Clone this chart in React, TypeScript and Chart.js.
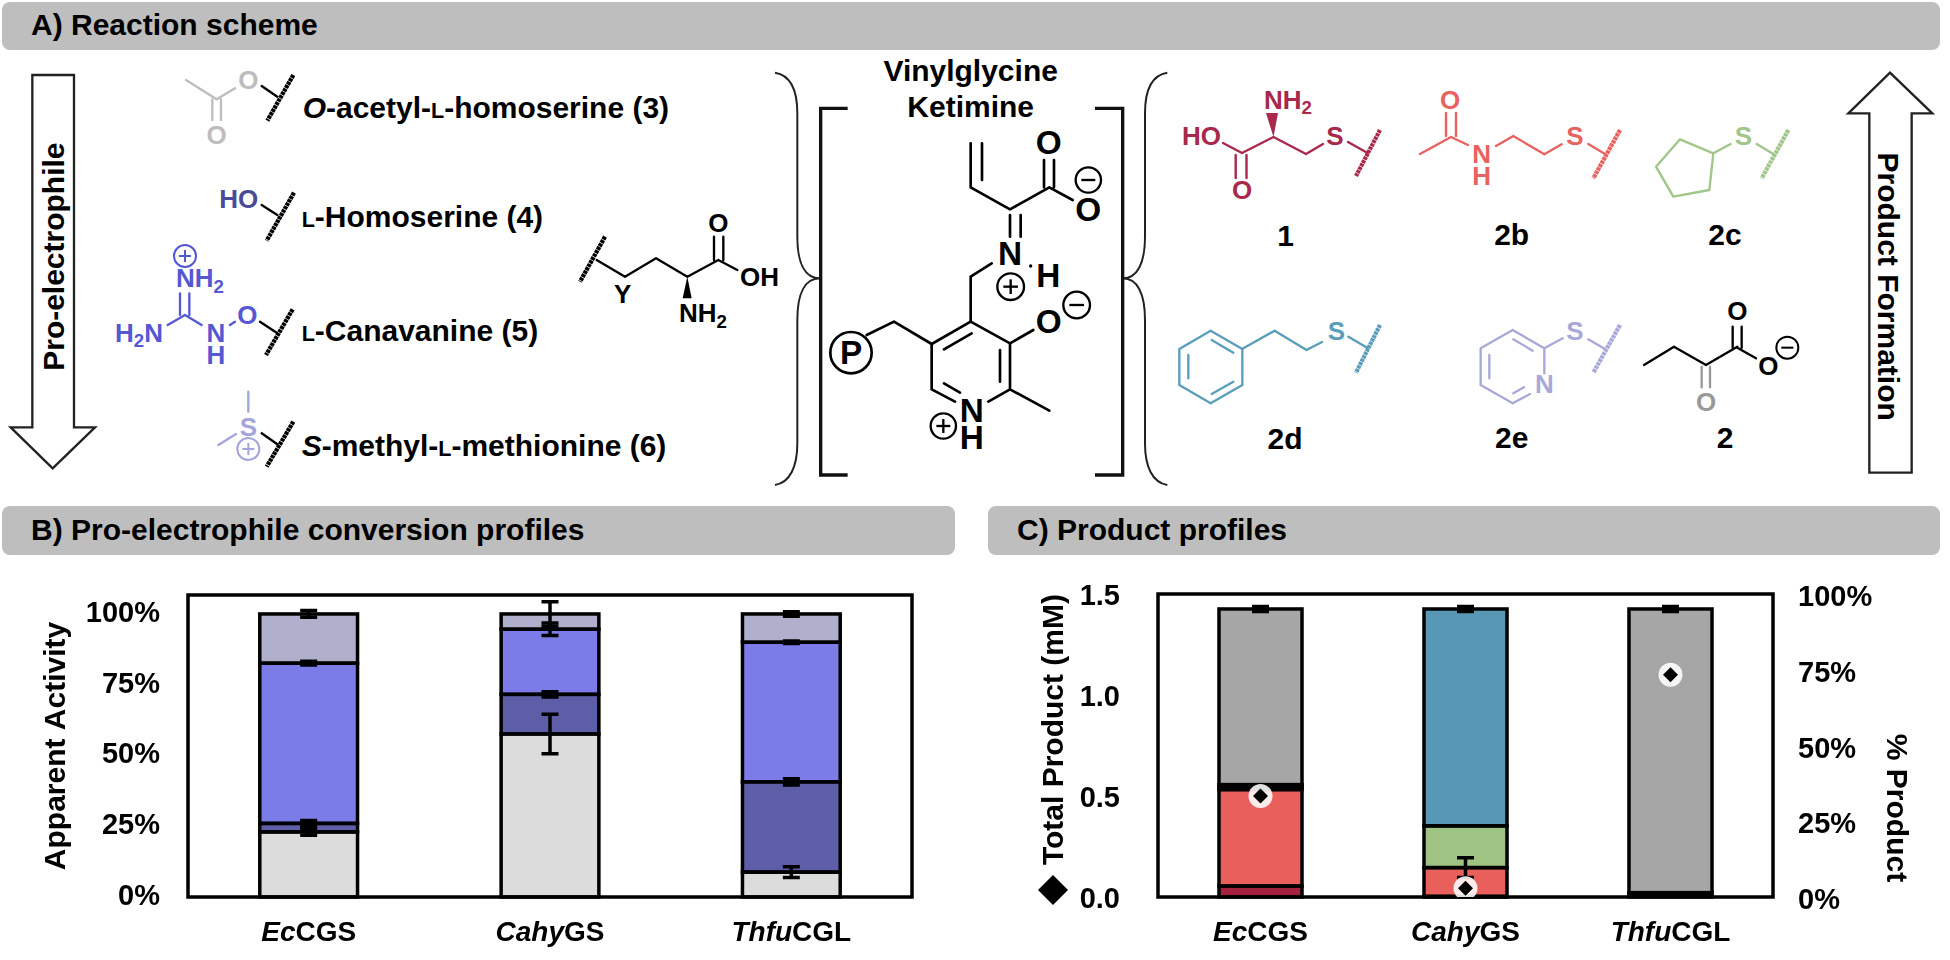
import React, { useEffect, useRef } from "react";
import { Chart, registerables } from "chart.js";

Chart.register(...registerables);

const FONT = "'Liberation Sans', Arial, sans-serif";

const italicParts = ["Ec", "Cahy", "Thfu"];
const plainParts = ["CGS", "GS", "CGL"];
const categories = ["EcCGS", "CahyGS", "ThfuCGL"];

// Panel B: apparent activity (%)
const acetylHomoserine = [23, 57.6, 8.8];
const homoserine = [3, 14, 31.9];
const canavanine = [56.6, 23, 49.3];
const methylMethionine = [17.4, 5.4, 10];
const acetylHomoserineErr = [1.2, 7, 1.9];
const homoserineErr = [1, 0.95, 1.1];
const canavanineErr = [0.65, 2.2, 0.45];
const methylMethionineErr = [1.2, 4.3, 0.8];
const activityTicks = [0, 25, 50, 75, 100];

// Panel C: product share (%) and total product (mM)
const product1 = [3.8, 0.2, 0.7];
const product2b = [33.5, 10, 0.8];
const product2c = [0.85, 14.5, 0];
const product2d = [0.85, 75.3, 0];
const product2e = [0, 0, 0];
const product2 = [61, 0, 98.5];
const product2bErr = [0, 3.4, 0];
const product2dErr = [0, 0.85, 0];
const product2Err = [0.85, 0, 0.85];
const totalProduct = [0.5, 0.043, 1.1];

const barBase = { borderWidth: 0, barPercentage: 0.405, categoryPercentage: 1, order: 2 };

const barMarks = {
  id: "barMarks",
  afterDatasetDraw(chart: any, args: any) {
    if (args.index !== 0) return;
    const { ctx, chartArea } = chart;
    ctx.save();
    ctx.strokeStyle = "#000";
    ctx.lineWidth = 3.5;
    chart.data.datasets.forEach((ds: any, i: number) => {
      if (ds.type === "line") return;
      chart.getDatasetMeta(i).data.forEach((el: any, j: number) => {
        if (!ds.data[j]) return;
        ctx.strokeRect(el.x - el.width / 2, el.y, el.width, el.base - el.y);
      });
    });
    chart.data.datasets.forEach((ds: any, i: number) => {
      if (!ds.errors) return;
      const meta = chart.getDatasetMeta(i);
      const sc = chart.scales[meta.yAxisID];
      const unit = sc.getPixelForValue(0) - sc.getPixelForValue(1);
      meta.data.forEach((el: any, j: number) => {
        const e = ds.errors[j];
        if (!e) return;
        const d = e * unit;
        ctx.beginPath();
        ctx.moveTo(el.x, el.y - d);
        ctx.lineTo(el.x, el.y + d);
        ctx.moveTo(el.x - 8.5, el.y - d);
        ctx.lineTo(el.x + 8.5, el.y - d);
        ctx.moveTo(el.x - 8.5, el.y + d);
        ctx.lineTo(el.x + 8.5, el.y + d);
        ctx.stroke();
      });
    });
    const { left, top, right, bottom } = chartArea;
    ctx.strokeRect(left, top, right - left, bottom - top);
    ctx.restore();
  },
};

const xLabels = {
  id: "xLabels",
  afterDraw(chart: any) {
    const { ctx, scales } = chart;
    ctx.save();
    ctx.fillStyle = "#000";
    ctx.textBaseline = "alphabetic";
    ctx.textAlign = "left";
    italicParts.forEach((it, i) => {
      const itFont = `italic bold 28px ${FONT}`;
      const plFont = `bold 28px ${FONT}`;
      ctx.font = itFont;
      const w1 = ctx.measureText(it).width;
      ctx.font = plFont;
      const w2 = ctx.measureText(plainParts[i]).width;
      const x0 = scales.x.getPixelForTick(i) - (w1 + w2) / 2;
      const y = scales.x.top + 44;
      ctx.font = itFont;
      ctx.fillText(it, x0, y);
      ctx.font = plFont;
      ctx.fillText(plainParts[i], x0 + w1, y);
    });
    ctx.restore();
  },
};

const productKey = {
  id: "productKey",
  afterDraw(chart: any) {
    const { ctx } = chart;
    ctx.save();
    ctx.fillStyle = "#000";
    ctx.beginPath();
    ctx.moveTo(93, 295);
    ctx.lineTo(108, 310);
    ctx.lineTo(93, 325);
    ctx.lineTo(78, 310);
    ctx.closePath();
    ctx.fill();
    ctx.translate(935, 228);
    ctx.rotate(Math.PI / 2);
    ctx.font = `bold 30px ${FONT}`;
    ctx.textAlign = "center";
    ctx.textBaseline = "middle";
    ctx.fillText("% Product", 0, 0);
    ctx.restore();
  },
};

const xAxis = {
  stacked: true,
  grid: { display: false },
  border: { display: false },
  ticks: { display: false },
  afterFit: (s: any) => { s.height = 63; },
};

const fitY = (width: number) => (s: any) => {
  s.width = width;
  s.paddingTop = 0;
  s.paddingBottom = 0;
};

const tickFont = { family: FONT, size: 29, weight: "bold" as const };

function ChartB() {
  const ref = useRef<HTMLCanvasElement>(null);
  useEffect(() => {
    const chart = new Chart(ref.current!, {
      type: "bar",
      data: {
        labels: categories,
        datasets: [
          { ...barBase, label: "3", data: acetylHomoserine, errors: acetylHomoserineErr, backgroundColor: "#DCDCDC" },
          { ...barBase, label: "4", data: homoserine, errors: homoserineErr, backgroundColor: "#5E5DA8" },
          { ...barBase, label: "5", data: canavanine, errors: canavanineErr, backgroundColor: "#7B7CE8" },
          { ...barBase, label: "6", data: methylMethionine, errors: methylMethionineErr, backgroundColor: "#B0B0CC" },
        ] as any,
      },
      options: {
        responsive: false,
        animation: false,
        devicePixelRatio: 1,
        layout: { padding: { top: 15, right: 48, left: 0, bottom: 0 } },
        plugins: { legend: { display: false }, tooltip: { enabled: false } },
        scales: {
          x: xAxis,
          y: {
            stacked: true,
            min: 0,
            max: 106.7,
            afterFit: fitY(188),
            afterBuildTicks: (s: any) => { s.ticks = activityTicks.map((value) => ({ value })); },
            grid: { display: false },
            border: { display: false },
            ticks: { color: "#000", font: tickFont, padding: 20, callback: (v: any) => `${v}%` },
            title: {
              display: true,
              text: "Apparent Activity",
              color: "#000",
              font: { family: FONT, size: 30, weight: "bold" },
              padding: { top: 39, bottom: 0 },
            },
          },
        },
      } as any,
      plugins: [barMarks, xLabels],
    });
    return () => chart.destroy();
  }, []);
  return <canvas ref={ref} width={960} height={380} style={{ position: "absolute", left: 0, top: 580 }} />;
}

function ChartC() {
  const ref = useRef<HTMLCanvasElement>(null);
  useEffect(() => {
    const chart = new Chart(ref.current!, {
      type: "bar",
      data: {
        labels: categories,
        datasets: [
          { ...barBase, yAxisID: "share", label: "1", data: product1, backgroundColor: "#A3213F" },
          { ...barBase, yAxisID: "share", label: "2b", data: product2b, errors: product2bErr, backgroundColor: "#E85F5C" },
          { ...barBase, yAxisID: "share", label: "2c", data: product2c, backgroundColor: "#9FC382" },
          { ...barBase, yAxisID: "share", label: "2d", data: product2d, errors: product2dErr, backgroundColor: "#5898B4" },
          { ...barBase, yAxisID: "share", label: "2e", data: product2e, backgroundColor: "#AFAFDA" },
          { ...barBase, yAxisID: "share", label: "2", data: product2, errors: product2Err, backgroundColor: "#A6A6A6" },
          {
            type: "line", yAxisID: "y", label: "halo", data: totalProduct, showLine: false, order: 1,
            pointStyle: "circle", pointRadius: 12, pointBorderWidth: 0, pointBackgroundColor: "rgba(255,255,255,0.88)",
          },
          {
            type: "line", yAxisID: "y", label: "Total Product", data: totalProduct, showLine: false, order: 0,
            pointStyle: "rectRot", pointRadius: 7.5, pointBorderWidth: 0, pointBackgroundColor: "#000",
          },
        ] as any,
      },
      options: {
        responsive: false,
        animation: false,
        devicePixelRatio: 1,
        layout: { padding: { top: 14, right: 0, left: 0, bottom: 0 } },
        plugins: { legend: { display: false }, tooltip: { enabled: false } },
        scales: {
          x: xAxis,
          share: { display: false, stacked: true, min: 0, max: 105.2 },
          y: {
            position: "left",
            min: 0,
            max: 1.5,
            afterFit: fitY(198),
            grid: { display: false },
            border: { display: false },
            ticks: { color: "#000", font: tickFont, padding: 30, stepSize: 0.5, labelOffset: 3, callback: (v: any) => Number(v).toFixed(1) },
            title: {
              display: true,
              text: "Total Product (mM)",
              align: "end",
              color: "#000",
              font: { family: FONT, size: 30, weight: "bold" },
              padding: { top: 77, bottom: 0 },
            },
          },
          pct: {
            position: "right",
            min: 0,
            max: 100,
            afterFit: fitY(177),
            grid: { display: false },
            border: { display: false },
            ticks: { color: "#000", font: tickFont, padding: 17, stepSize: 25, labelOffset: 4, callback: (v: any) => `${v}%` },
          },
        },
      } as any,
      plugins: [barMarks, xLabels, productKey],
    });
    return () => chart.destroy();
  }, []);
  return <canvas ref={ref} width={990} height={380} style={{ position: "absolute", left: 960, top: 580 }} />;
}

type Seg = [number, number, number, number];

const Segs = ({ s, c = "#000", w = 7 }: { s: Seg[]; c?: string; w?: number }) => (
  <path d={s.map((a) => `M${a[0]} ${a[1]}L${a[2]} ${a[3]}`).join("")} stroke={c} strokeWidth={w} fill="none" strokeLinecap="round" strokeLinejoin="round" />
);

const Wavy = ({ s, c = "#000", w = 13 }: { s: Seg; c?: string; w?: number }) => (
  <line x1={s[0]} y1={s[1]} x2={s[2]} y2={s[3]} stroke={c} strokeWidth={w} strokeDasharray={`${w * 0.75} ${w * 0.15}`} />
);

const T = ({ x, y, c = "#000", size = 78, a = "middle", weight = "bold", children }: any) => (
  <text x={x} y={y} fill={c} fontSize={size} textAnchor={a} fontWeight={weight} fontFamily={FONT}>{children}</text>
);

const Sub = ({ size = 78, children }: any) => (
  <tspan fontSize={size * 0.72} dy={size * 0.2}>{children}</tspan>
);

const Charge = ({ x, y, r, c = "#000", plus = true, w = 6 }: any) => (
  <g stroke={c} strokeWidth={w} fill="none">
    <circle cx={x} cy={y} r={r} />
    <line x1={x - r * 0.55} y1={y} x2={x + r * 0.55} y2={y} />
    {plus && <line x1={x} y1={y - r * 0.55} x2={x} y2={y + r * 0.55} />}
  </g>
);

const SmallL = ({ size = 90 }: any) => <tspan fontSize={size * 0.72}>L</tspan>;

const GRAY = "#BDBDBD", NAVY = "#4A4B96", BLUE = "#5558D2", LILAC = "#A4A5DC";
const CRIMSON = "#A8294B", CORAL = "#E8625F", GREEN = "#A0C68A", TEAL = "#5A9EBB", PERI = "#A8A9D8";

function Scheme() {
  return (
    <svg width={1950} height={960} style={{ position: "absolute", left: 0, top: 0, pointerEvents: "none" }}>
      <g transform="translate(0 50) scale(0.33333)">
        <polygon points="97,75 222,75 222,1132 285,1132 158,1255 32,1132 97,1132" fill="#fff" stroke="#222" strokeWidth={7} />
        <text transform="translate(192 620) rotate(-90)" textAnchor="middle" fontSize={90} fontWeight="bold" fontFamily={FONT}>Pro-electrophile</text>

        <Segs c={GRAY} s={[[558, 90, 650, 148], [650, 148, 705, 115], [637, 148, 637, 210], [663, 148, 663, 210]]} />
        <T x={745} y={118} c={GRAY}>O</T>
        <T x={650} y={282} c={GRAY}>O</T>
        <Segs s={[[785, 108, 832, 140]]} />
        <Wavy s={[880, 75, 802, 212]} />
        <T x={908} y={205} size={90} a="start"><tspan fontStyle="italic">O</tspan>-acetyl-<SmallL />-homoserine (3)</T>

        <T x={775} y={475} c={NAVY} a="end">HO</T>
        <Segs s={[[785, 465, 832, 495]]} />
        <Wavy s={[882, 428, 800, 572]} />
        <T x={905} y={532} size={90} a="start"><SmallL />-Homoserine (4)</T>

        <Charge x={555} y={618} r={33} c={BLUE} />
        <T x={528} y={712} c={BLUE} a="start">NH<Sub>2</Sub></T>
        <Segs c={BLUE} s={[[540, 730, 540, 795], [568, 730, 568, 795], [503, 825, 555, 795], [555, 795, 605, 825], [690, 825, 705, 815]]} />
        <T x={345} y={875} c={BLUE} a="start">H<Sub>2</Sub><tspan dy={-15.6}>N</tspan></T>
        <T x={648} y={875} c={BLUE}>N</T>
        <T x={648} y={942} c={BLUE}>H</T>
        <T x={742} y={822} c={BLUE}>O</T>
        <Segs s={[[780, 815, 830, 848]]} />
        <Wavy s={[878, 778, 798, 915]} />
        <T x={905} y={873} size={90} a="start"><SmallL />-Canavanine (5)</T>

        <Segs c={LILAC} s={[[745, 1025, 745, 1085], [655, 1185, 708, 1152]]} />
        <T x={745} y={1158} c={LILAC}>S</T>
        <Charge x={745} y={1197} r={33} c={LILAC} />
        <Segs s={[[785, 1150, 832, 1183]]} />
        <Wavy s={[880, 1115, 800, 1250]} />
        <T x={905} y={1218} size={90} a="start"><tspan fontStyle="italic">S</tspan>-methyl-<SmallL />-methionine (6)</T>
      </g>

      <g transform="translate(450 50) scale(0.33333)">
        <Wavy s={[465, 560, 390, 695]} />
        <Segs s={[[440, 630, 525, 680], [525, 680, 618, 625], [618, 625, 712, 680], [712, 680, 805, 630], [792, 560, 792, 630], [820, 560, 820, 630], [805, 630, 862, 660]]} />
        <polygon points="712,680 698,745 725,745" fill="#000" />
        <T x={805} y={545}>O</T>
        <T x={870} y={708} a="start">OH</T>
        <T x={687} y={817} a="start">NH<Sub>2</Sub></T>
        <T x={518} y={760}>Y</T>
      </g>

      <g transform="translate(760 50) scale(0.33333)">
        <path d="M45 68C90 75 112 120 112 190L112 560C112 640 135 685 180 685C135 685 112 730 112 810L112 1180C112 1250 90 1298 45 1305" fill="none" stroke="#222" strokeWidth={6} />
        <path d="M1222 68C1177 75 1155 120 1155 190L1155 560C1155 640 1132 685 1088 685C1132 685 1155 730 1155 810L1155 1180C1155 1250 1177 1298 1222 1305" fill="none" stroke="#222" strokeWidth={6} />
        <path d="M263 175L182 175L182 1275L263 1275M1005 175L1088 175L1088 1275L1005 1275" fill="none" stroke="#111" strokeWidth={10} />
        <T x={632} y={93} size={90}>Vinylglycine</T>
        <T x={632} y={200} size={90}>Ketimine</T>
        <Segs w={8} s={[
          [632, 280, 632, 412], [666, 280, 666, 390], [632, 412, 750, 478], [750, 478, 868, 412],
          [852, 330, 852, 412], [882, 330, 882, 412], [868, 412, 938, 450],
          [750, 495, 750, 560], [782, 495, 782, 560], [695, 640, 632, 680], [632, 680, 632, 815],
          [632, 815, 515, 882], [635, 850, 552, 898], [515, 882, 515, 1018], [515, 1018, 585, 1055], [552, 1000, 600, 1028],
          [685, 1055, 750, 1018], [750, 1018, 750, 880], [720, 900, 720, 995], [750, 880, 632, 815],
          [750, 880, 820, 840], [515, 882, 402, 815], [402, 815, 320, 855], [750, 1018, 868, 1082],
        ]} />
        <T x={866} y={312} size={100}>O</T>
        <T x={985} y={514} size={100}>O</T>
        <Charge x={985} y={390} r={38} plus={false} w={7} />
        <T x={750} y={645} size={100}>N</T>
        <circle cx={812} cy={648} r={5} fill="#000" />
        <T x={865} y={712} size={100}>H</T>
        <Charge x={752} y={710} r={40} w={7} />
        <T x={866} y={850} size={100}>O</T>
        <Charge x={950} y={765} r={40} plus={false} w={7} />
        <circle cx={273} cy={908} r={62} fill="none" stroke="#000" strokeWidth={8} />
        <T x={273} y={942} size={100}>P</T>
        <T x={635} y={1115} size={100}>N</T>
        <T x={635} y={1198} size={100}>H</T>
        <Charge x={550} y={1128} r={38} w={7} />
        <Segs c={TEAL} s={[
          [1352, 842, 1447, 897], [1447, 897, 1447, 1005], [1447, 1005, 1352, 1060], [1352, 1060, 1258, 1005], [1258, 1005, 1258, 897], [1258, 897, 1352, 842],
          [1355, 870, 1420, 908], [1285, 915, 1285, 985], [1355, 1032, 1420, 995],
        ]} />
      </g>

      <g>
        <T x={1221} y={145} c={CRIMSON} a="end" size={26}>HO</T>
        <Segs w={2.4} c={CRIMSON} s={[[1223, 143, 1242, 153], [1242, 153, 1273.5, 137], [1273.5, 137, 1306, 154], [1306, 154, 1323, 144], [1235.7, 155, 1235.7, 178], [1246.5, 155, 1246.5, 178], [1348, 142, 1367.6, 153]]} />
        <polygon points="1273.5,137 1266,113 1278,113" fill={CRIMSON} />
        <T x={1242} y={199} c={CRIMSON} size={26}>O</T>
        <T x={1264} y={109} c={CRIMSON} a="start" size={26}>NH<Sub size={26}>2</Sub></T>
        <T x={1335} y={145} c={CRIMSON} size={26}>S</T>
        <Wavy c={CRIMSON} w={4.2} s={[1380, 130, 1356, 176]} />
        <T x={1285.5} y={246} size={30}>1</T>

        <T x={1450} y={109} c={CORAL} size={26}>O</T>
        <Segs w={2.4} c={CORAL} s={[[1446, 113, 1446, 136], [1456, 113, 1456, 136], [1420, 154, 1451, 137], [1451, 137, 1468, 145]]} />

        <Segs w={2.4} c={TEAL} s={[[1242, 349, 1274.7, 330.7], [1274.7, 330.7, 1306.5, 350], [1306.5, 350, 1322, 342], [1348.4, 336.7, 1367.6, 348]]} />
        <T x={1336.4} y={340} c={TEAL} size={26}>S</T>
        <Wavy c={TEAL} w={4.2} s={[1380, 325, 1356, 372.7]} />
        <T x={1285} y={449} size={30}>2d</T>
      </g>

      <g transform="translate(1450 50) scale(0.33333)">
        <T x={95} y={340} c={CORAL}>N</T>
        <T x={95} y={405} c={CORAL}>H</T>
        <Segs c={CORAL} s={[[138, 288, 190, 258], [190, 258, 283, 313], [283, 313, 335, 283], [415, 282, 465, 312]]} />
        <T x={375} y={285} c={CORAL}>S</T>
        <Wavy c={CORAL} s={[510, 240, 430, 385]} />
        <T x={185} y={585} size={90}>2b</T>

        <polygon points="690,268 790,310 778,420 670,440 618,350" fill="none" stroke={GREEN} strokeWidth={7} strokeLinejoin="round" />
        <Segs c={GREEN} s={[[790, 310, 842, 282], [920, 282, 970, 312]]} />
        <T x={880} y={285} c={GREEN}>S</T>
        <Wavy c={GREEN} s={[1015, 240, 935, 385]} />
        <T x={825} y={585} size={90}>2c</T>

        <Segs c={PERI} s={[
          [188, 840, 283, 895], [283, 895, 283, 970], [240, 1032, 188, 1060], [188, 1060, 92, 1005], [92, 1005, 92, 895], [92, 895, 188, 840],
          [190, 868, 248, 902], [118, 915, 118, 985], [190, 1030, 222, 1012], [283, 895, 338, 865], [415, 868, 465, 897],
        ]} />
        <T x={283} y={1030} c={PERI}>N</T>
        <T x={375} y={870} c={PERI}>S</T>
        <Wavy c={PERI} s={[510, 825, 430, 968]} />
        <T x={185} y={1195} size={90}>2e</T>

        <Segs s={[[582, 945, 672, 890], [672, 890, 768, 945], [768, 945, 862, 890], [848, 830, 848, 893], [875, 830, 875, 893], [862, 893, 918, 925]]} />
        <Segs c="#999" s={[[755, 950, 755, 1012], [780, 950, 780, 1012]]} />
        <T x={768} y={1083} c="#999">O</T>
        <T x={862} y={810}>O</T>
        <T x={955} y={975}>O</T>
        <Charge x={1012} y={893} r={33} plus={false} />
        <T x={825} y={1195} size={90}>2</T>

        <polygon points="1320,68 1447,190 1385,190 1385,1268 1258,1268 1258,190 1195,190" fill="#fff" stroke="#222" strokeWidth={7} />
        <text transform="translate(1285 710) rotate(90)" textAnchor="middle" fontSize={90} fontWeight="bold" fontFamily={FONT}>Product Formation</text>
      </g>
    </svg>
  );
}

const Header = ({ x, y, w, h, tx, children }: any) => (
  <div style={{ position: "absolute", left: x, top: y, width: w, height: h, background: "#BEBEBE", borderRadius: 8, font: `bold 30px ${FONT}`, lineHeight: `${h - 2}px`, color: "#000" }}>
    <span style={{ position: "absolute", left: tx }}>{children}</span>
  </div>
);

export default function App() {
  return (
    <div style={{ position: "absolute", left: 0, top: 0, width: 1950, height: 960, background: "#fff", overflow: "hidden", filter: "blur(0.6px)" }}>
      <Header x={2} y={2} w={1938} h={48} tx={29}>A) Reaction scheme</Header>
      <Header x={2} y={506} w={953} h={49} tx={29}>B) Pro-electrophile conversion profiles</Header>
      <Header x={988} y={506} w={952} h={49} tx={29}>C) Product profiles</Header>
      <Scheme />
      <ChartB />
      <ChartC />
    </div>
  );
}
